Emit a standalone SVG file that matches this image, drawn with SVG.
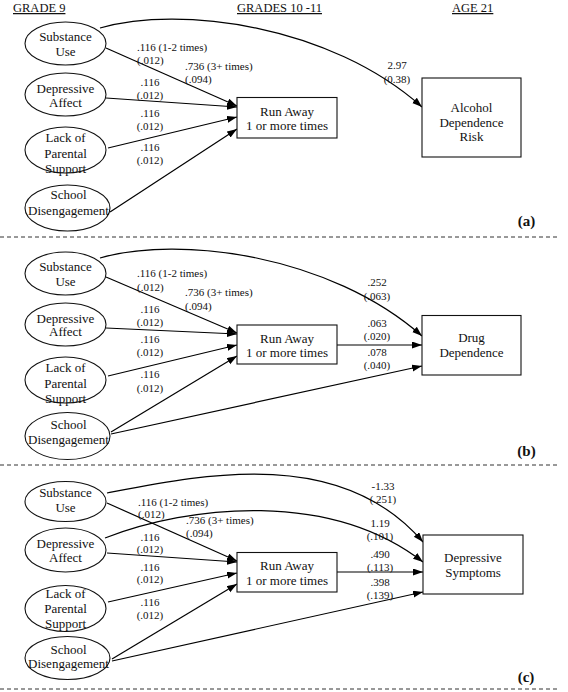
<svg xmlns="http://www.w3.org/2000/svg" width="568" height="692" viewBox="0 0 568 692" font-family="'Liberation Serif', 'Times New Roman', serif">
<defs>
<marker id="ah" markerUnits="userSpaceOnUse" markerWidth="10" markerHeight="8" refX="10" refY="3.5" orient="auto">
<path d="M0,0 L10,3.5 L0,7 z" fill="#000"/>
</marker>
<style>
.n ellipse,.n rect{fill:#fff;stroke:#111;stroke-width:1.1}
text{font-family:'Liberation Serif','Times New Roman',serif}
.t{font-size:13px;fill:#111;text-anchor:middle}
.l{font-size:11px;fill:#111}
.m{text-anchor:middle}
.h{font-size:12.5px;fill:#111;text-decoration:underline}
.p{font-size:15px;font-weight:bold;fill:#111;text-anchor:middle}
.c path,.c line{fill:none;stroke:#000;stroke-width:1.2;marker-end:url(#ah)}
.d{stroke:#333;stroke-width:1;stroke-dasharray:4 3}
</style>
</defs>
<rect width="568" height="692" fill="#fff"/>

<g id="headers">
<text class="h" x="13" y="12">GRADE 9</text>
<text class="h" x="237" y="12">GRADES 10 -11</text>
<text class="h" x="452" y="12">AGE 21</text>
</g>

<g id="separators">
<line class="d" x1="0" y1="237" x2="557" y2="237"/>
<line class="d" x1="0" y1="465" x2="557" y2="465"/>
<line class="d" x1="0" y1="689" x2="557" y2="689"/>
</g>

<g id="connectors" class="c">
<path d="M100,28 C180,5 330,25 422,107"/>
<line x1="106" y1="48" x2="237" y2="106"/>
<line x1="106" y1="98" x2="237" y2="107"/>
<line x1="108" y1="148" x2="237" y2="117"/>
<line x1="110" y1="212" x2="237" y2="129"/>
<path d="M100,258 C180,235 330,255 422,336"/>
<line x1="106" y1="277" x2="237" y2="333"/>
<line x1="106" y1="328" x2="237" y2="334"/>
<line x1="108" y1="376" x2="237" y2="345"/>
<line x1="111" y1="432" x2="237" y2="356"/>
<line x1="111" y1="434" x2="422" y2="366"/>
<line x1="337" y1="345" x2="422" y2="345"/>
<path d="M107,493 C200,475 340,445 423,542"/>
<path d="M105,538 C190,505 330,490 423,562"/>
<line x1="107" y1="503" x2="237" y2="561"/>
<line x1="107" y1="553" x2="237" y2="562"/>
<line x1="108" y1="602" x2="237" y2="573"/>
<line x1="112" y1="659" x2="237" y2="584"/>
<line x1="112" y1="661" x2="423" y2="592"/>
<line x1="337" y1="572" x2="423" y2="572"/>
</g>

<g id="edge-labels">
<text class="l" x="137" y="50.5">.116 (1-2 times)</text>
<text class="l" x="137" y="64">(.012)</text>
<text class="l" x="185" y="69.5">.736 (3+ times)</text>
<text class="l" x="185" y="83">(.094)</text>
<text class="l m" x="150" y="85.5">.116</text>
<text class="l m" x="150" y="99">(.012)</text>
<text class="l m" x="150" y="116.5">.116</text>
<text class="l m" x="150" y="129.5">(.012)</text>
<text class="l m" x="150" y="150.5">.116</text>
<text class="l m" x="150" y="164">(.012)</text>
<text class="l m" x="397" y="69">2.97</text>
<text class="l m" x="397" y="83">(0.38)</text>
<text class="l" x="137" y="277">.116 (1-2 times)</text>
<text class="l" x="137" y="290.5">(.012)</text>
<text class="l" x="185" y="296">.736 (3+ times)</text>
<text class="l" x="185" y="309.5">(.094)</text>
<text class="l m" x="150" y="313">.116</text>
<text class="l m" x="150" y="326">(.012)</text>
<text class="l m" x="150" y="343">.116</text>
<text class="l m" x="150" y="356">(.012)</text>
<text class="l m" x="150" y="378">.116</text>
<text class="l m" x="150" y="391.5">(.012)</text>
<text class="l m" x="377" y="286">.252</text>
<text class="l m" x="377" y="300">(.063)</text>
<text class="l m" x="377" y="326.5">.063</text>
<text class="l m" x="377" y="340">(.020)</text>
<text class="l m" x="377" y="356">.078</text>
<text class="l m" x="377" y="369">(.040)</text>
<text class="l" x="138" y="505.5">.116 (1-2 times)</text>
<text class="l" x="138" y="517.5">(.012)</text>
<text class="l" x="186" y="524">.736 (3+ times)</text>
<text class="l" x="186" y="536.5">(.094)</text>
<text class="l m" x="150" y="540.5">.116</text>
<text class="l m" x="150" y="553">(.012)</text>
<text class="l m" x="150" y="570.5">.116</text>
<text class="l m" x="150" y="583">(.012)</text>
<text class="l m" x="150" y="605.5">.116</text>
<text class="l m" x="150" y="619">(.012)</text>
<text class="l m" x="383" y="490">-1.33</text>
<text class="l m" x="383" y="503">(.251)</text>
<text class="l m" x="380" y="527">1.19</text>
<text class="l m" x="380" y="540">(.101)</text>
<text class="l m" x="380" y="557.5">.490</text>
<text class="l m" x="380" y="570.5">(.113)</text>
<text class="l m" x="380" y="586">.398</text>
<text class="l m" x="380" y="599">(.139)</text>
</g>

<g id="a-substance" class="n"><ellipse cx="65.5" cy="43.5" rx="40.5" ry="21.5"/><text class="t" x="65.5" y="41">Substance</text><text class="t" x="65.5" y="56">Use</text></g>
<g id="a-depressive" class="n"><ellipse cx="65.5" cy="94.5" rx="40.5" ry="21.5"/><text class="t" x="65.5" y="92.5">Depressive</text><text class="t" x="65.5" y="106.5">Affect</text></g>
<g id="a-parental" class="n"><ellipse cx="65.5" cy="150" rx="40.5" ry="23"/><text class="t" x="65.5" y="141.5">Lack of</text><text class="t" x="65.5" y="157.5">Parental</text><text class="t" x="65.5" y="172.5">Support</text></g>
<g id="a-school" class="n"><ellipse cx="67.5" cy="208" rx="42.5" ry="23"/><text class="t" x="68.5" y="198.5">School</text><text class="t" x="68.5" y="214.5">Disengagement</text></g>
<g id="a-runaway" class="n"><rect x="237" y="97.5" width="100" height="40.5"/><text class="t" x="287" y="116">Run Away</text><text class="t" x="287" y="130">1 or more times</text></g>
<g id="a-alcohol" class="n"><rect x="422" y="78" width="99" height="79"/><text class="t" x="471.5" y="111.5">Alcohol</text><text class="t" x="471.5" y="126.5">Dependence</text><text class="t" x="471.5" y="140.5">Risk</text></g>
<text id="a-label" class="p" x="526.5" y="226">(a)</text>

<g id="b-substance" class="n"><ellipse cx="65.5" cy="273.5" rx="40.5" ry="21.5"/><text class="t" x="65.5" y="271">Substance</text><text class="t" x="65.5" y="286">Use</text></g>
<g id="b-depressive" class="n"><ellipse cx="65.5" cy="324.5" rx="40.5" ry="21.5"/><text class="t" x="65.5" y="322.5">Depressive</text><text class="t" x="65.5" y="336">Affect</text></g>
<g id="b-parental" class="n"><ellipse cx="65.5" cy="380" rx="40.5" ry="23"/><text class="t" x="65.5" y="372">Lack of</text><text class="t" x="65.5" y="388">Parental</text><text class="t" x="65.5" y="403">Support</text></g>
<g id="b-school" class="n"><ellipse cx="67.5" cy="436" rx="42.5" ry="23.5"/><text class="t" x="68.5" y="429">School</text><text class="t" x="68.5" y="444">Disengagement</text></g>
<g id="b-runaway" class="n"><rect x="237" y="325" width="100" height="39"/><text class="t" x="287" y="343">Run Away</text><text class="t" x="287" y="357">1 or more times</text></g>
<g id="b-drug" class="n"><rect x="422" y="315.5" width="99" height="59.5"/><text class="t" x="471.5" y="341.5">Drug</text><text class="t" x="471.5" y="356.5">Dependence</text></g>
<text id="b-label" class="p" x="526.5" y="456">(b)</text>

<g id="c-substance" class="n"><ellipse cx="65.5" cy="501.5" rx="40.5" ry="20"/><text class="t" x="65.5" y="497">Substance</text><text class="t" x="65.5" y="511.5">Use</text></g>
<g id="c-depressive" class="n"><ellipse cx="65.5" cy="550" rx="40.5" ry="22"/><text class="t" x="65.5" y="547.5">Depressive</text><text class="t" x="65.5" y="562">Affect</text></g>
<g id="c-parental" class="n"><ellipse cx="65.5" cy="608.5" rx="40.5" ry="23"/><text class="t" x="65.5" y="598">Lack of</text><text class="t" x="65.5" y="613">Parental</text><text class="t" x="65.5" y="628">Support</text></g>
<g id="c-school" class="n"><ellipse cx="67.5" cy="658" rx="42.5" ry="21.5"/><text class="t" x="68.5" y="653.5">School</text><text class="t" x="68.5" y="668">Disengagement</text></g>
<g id="c-runaway" class="n"><rect x="237" y="552.5" width="100" height="39.5"/><text class="t" x="287" y="570">Run Away</text><text class="t" x="287" y="584.5">1 or more times</text></g>
<g id="c-symptoms" class="n"><rect x="423" y="535" width="100" height="59"/><text class="t" x="473" y="561.5">Depressive</text><text class="t" x="473" y="576.5">Symptoms</text></g>
<text id="c-label" class="p" x="526" y="682">(c)</text>
</svg>
